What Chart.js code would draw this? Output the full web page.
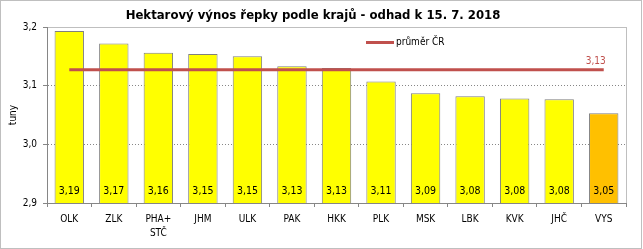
<!DOCTYPE html>
<html>
<head>
<meta charset="utf-8">
<script src="https://cdn.jsdelivr.net/npm/chart.js@4/dist/chart.umd.min.js"></script>
<style>
  body { margin: 0; background: #fff; }
</style>
</head>
<body>
<canvas id="chart" width="643" height="249"></canvas>
<script>
// kraje a hektarovy vynos (t/ha)
var regions = ['OLK', 'ZLK', ['PHA+', 'STČ'], 'JHM', 'ULK', 'PAK', 'HKK', 'PLK', 'MSK', 'LBK', 'KVK', 'JHČ', 'VYS'];
var yieldValues = [3.193, 3.172, 3.156, 3.154, 3.150, 3.133, 3.130, 3.107, 3.087, 3.082, 3.078, 3.077, 3.053];
var avgCR = 3.127;
var yTicks = [2.9, 3.0, 3.1, 3.2];

var fontFamily = '"DejaVu Sans Condensed", "DejaVu Sans", sans-serif';
var axisColor = '#868686';

var barColors = yieldValues.map(function (v, i) {
    return i === yieldValues.length - 1 ? '#FFC000' : '#FFFF00';
});

function czNum(v, d) {
    return v.toFixed(d).replace('.', ',');
}

// ramecek grafu a plochy
var framePlugin = {
    id: 'frame',
    beforeDraw: function (chart) {
        var ctx = chart.ctx, a = chart.chartArea;
        ctx.save();
        ctx.fillStyle = '#fff';
        ctx.fillRect(0, 0, chart.width, chart.height);
        ctx.strokeStyle = '#BFBFBF';
        ctx.lineWidth = 1;
        ctx.strokeRect(0.5, 0.5, chart.width - 2, chart.height - 1);
        ctx.strokeRect(a.left + 0.5, a.top + 0.5, a.right - a.left, a.bottom - a.top);
        ctx.restore();
    }
};

// popisky hodnot, prumer a legenda
var labelPlugin = {
    id: 'labels',
    afterDatasetsDraw: function (chart) {
        var ctx = chart.ctx;
        var bottom = chart.scales.y.bottom;
        ctx.save();
        ctx.font = '10.5px ' + fontFamily;
        ctx.textAlign = 'center';
        ctx.textBaseline = 'middle';
        ctx.fillStyle = '#000';
        chart.getDatasetMeta(0).data.forEach(function (bar, i) {
            ctx.fillText(czNum(yieldValues[i], 2), bar.x, bottom - 12);
        });
        ctx.font = '10px ' + fontFamily;
        var pts = chart.getDatasetMeta(1).data;
        var last = pts[pts.length - 1];
        ctx.fillStyle = '#C0504D';
        ctx.fillText(czNum(avgCR, 2), last.x - 8, last.y - 8);

        // legenda
        var lx = 366, ly = 42.5;
        ctx.strokeStyle = '#C0504D';
        ctx.lineWidth = 3;
        ctx.beginPath();
        ctx.moveTo(lx, ly);
        ctx.lineTo(lx + 28, ly);
        ctx.stroke();
        ctx.fillStyle = '#000';
        ctx.textAlign = 'left';
        ctx.fillText('průměr ČR', lx + 30, ly);
        ctx.restore();
    }
};

new Chart(document.getElementById('chart'), {
    type: 'bar',
    data: {
        labels: regions,
        datasets: [{
            label: 'výnos',
            data: yieldValues,
            backgroundColor: barColors,
            borderColor: '#7F7F7F',
            borderWidth: 1,
            barPercentage: 0.66,
            categoryPercentage: 1,
            order: 2
        }, {
            type: 'line',
            label: 'průměr ČR',
            data: yieldValues.map(function () { return avgCR; }),
            borderColor: '#C0504D',
            borderWidth: 3,
            pointRadius: 0,
            order: 1
        }]
    },
    options: {
        responsive: false,
        animation: false,
        layout: {padding: {top: 0, right: 17, bottom: 6, left: 0}},
        plugins: {
            legend: {display: false},
            tooltip: {enabled: false},
            title: {
                display: true,
                text: 'Hektarový výnos řepky podle krajů - odhad k 15. 7. 2018',
                color: '#000',
                font: {family: fontFamily, size: 13, weight: 'bold', lineHeight: 1.2},
                padding: {top: 8, bottom: 3.4}
            }
        },
        scales: {
            x: {
                offset: true,
                grid: {
                    offset: true,
                    drawOnChartArea: false,
                    drawTicks: true,
                    tickLength: 4,
                    tickColor: axisColor
                },
                border: {color: axisColor},
                ticks: {
                    color: '#000',
                    font: {family: fontFamily, size: 10, lineHeight: 1.35},
                    padding: 6,
                    maxRotation: 0,
                    autoSkip: false
                },
                afterFit: function (scale) { scale.height = 40; }
            },
            y: {
                min: 2.9,
                max: 3.2,
                afterBuildTicks: function (scale) {
                    scale.ticks = yTicks.map(function (v) { return {value: v}; });
                },
                grid: {
                    color: function (c) {
                        var v = c.tick ? c.tick.value : null;
                        return (v > 2.95 && v < 3.15) ? axisColor : 'rgba(0,0,0,0)';
                    },
                    tickColor: axisColor,
                    tickLength: 4,
                    tickBorderDash: []
                },
                border: {color: axisColor, dash: [1, 2]},
                ticks: {
                    color: '#000',
                    font: {family: fontFamily, size: 10},
                    padding: 6,
                    callback: function (v) { return czNum(v, 1); }
                },
                title: {
                    display: true,
                    text: 'tuny',
                    color: '#000',
                    font: {family: fontFamily, size: 10},
                    padding: {top: 7, bottom: 0}
                },
                afterFit: function (scale) { scale.width = 47; }
            }
        }
    },
    plugins: [framePlugin, labelPlugin]
});
</script>
</body>
</html>
